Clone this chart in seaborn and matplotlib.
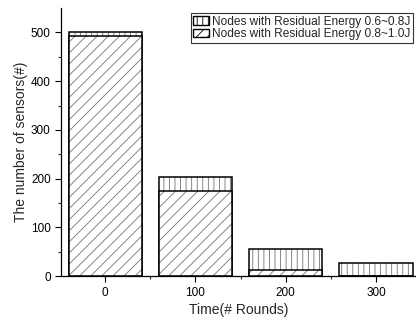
import numpy as np
import pandas as pd
import matplotlib
matplotlib.use('Agg')
import matplotlib.pyplot as plt
import seaborn as sns
from matplotlib.patches import Patch

rounds = ['0', '100', '200', '300']
energy_08_10 = [492, 175, 12, 0]
energy_06_08 = [8, 29, 44, 28]
labels = ['Nodes with Residual Energy 0.6~0.8J', 'Nodes with Residual Energy 0.8~1.0J']

sns.set_style('ticks')
plt.rcParams['font.family'] = ['Liberation Sans', 'DejaVu Sans']
plt.rcParams['hatch.linewidth'] = 0.6

df = pd.DataFrame({'round': rounds,
                   'low': energy_08_10,
                   'total': np.array(energy_08_10) + np.array(energy_06_08)})

fig = plt.figure(figsize=(4.16, 3.23), dpi=100)
ax = fig.add_axes([0.147, 0.145, 0.853, 0.83])

hatch_col = '0.45'
# upper part (0.6~0.8J) drawn as total height, lower part laid over it
sns.barplot(data=df, x='round', y='total', color='white', edgecolor=hatch_col,
            linewidth=0, width=0.81, hatch='|||', ax=ax)
sns.barplot(data=df, x='round', y='total', fill=False, edgecolor='black',
            linewidth=1.1, width=0.81, ax=ax)
sns.barplot(data=df, x='round', y='low', color='white', edgecolor=hatch_col,
            linewidth=0, width=0.81, hatch='///', ax=ax)
sns.barplot(data=df, x='round', y='low', fill=False, edgecolor='black',
            linewidth=1.1, width=0.81, ax=ax)

ax.set_xlim(-0.487, 3.443)
ax.set_ylim(0, 550)
ax.set_yticks([0, 100, 200, 300, 400, 500])
ax.set_yticks(np.arange(50, 550, 100), minor=True)
ax.set_xticks([0.5, 1.5, 2.5], minor=True)
ax.tick_params(axis='both', which='major', direction='out', length=4, width=0.8,
               labelsize=8.5, colors='black')
ax.tick_params(axis='both', which='minor', direction='out', length=2, width=0.8)
for s in ['top', 'right']:
    ax.spines[s].set_visible(False)
for s in ['left', 'bottom']:
    ax.spines[s].set_linewidth(0.9)
    ax.spines[s].set_color('black')

ax.set_xlabel('Time(# Rounds)', fontsize=10, labelpad=3)
ax.set_ylabel('The number of sensors(#)', fontsize=10, labelpad=2)

handles = [Patch(facecolor='white', edgecolor='black', hatch='|||', linewidth=1.0),
           Patch(facecolor='white', edgecolor='black', hatch='///', linewidth=1.0)]
leg = ax.legend(handles, labels, loc='upper right', bbox_to_anchor=(0.995, 0.985),
                fontsize=8.6, frameon=True, fancybox=False, edgecolor='black',
                handlelength=1.3, handleheight=0.7, labelspacing=0.05,
                borderpad=0.2, handletextpad=0.3, borderaxespad=0.1)
leg.get_frame().set_linewidth(0.8)

fig.savefig('out.png', dpi=100)
